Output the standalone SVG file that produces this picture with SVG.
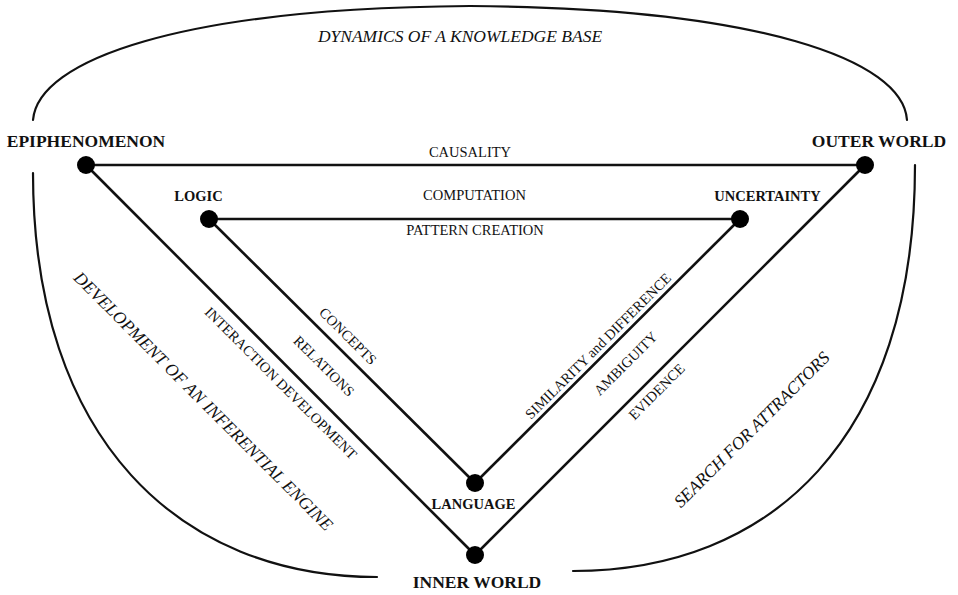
<svg xmlns="http://www.w3.org/2000/svg" width="958" height="595" viewBox="0 0 958 595">
<style>
.bg{fill:#ffffff}
.arc{fill:none;stroke:#111;stroke-width:2.2;stroke-linecap:round}
.edge{fill:none;stroke:#111;stroke-width:2.6}
.dot{fill:#000}
text{font-family:"Liberation Serif","Times New Roman",serif;fill:#111}
.node{font-weight:bold;font-size:17.5px;text-anchor:middle}
.inode{font-weight:bold;font-size:14.5px;text-anchor:middle}
.lbl{font-size:14.5px;text-anchor:middle}
.it{font-style:italic;font-size:17.5px;text-anchor:middle}
</style>
<rect class="bg" x="0" y="0" width="958" height="595"/>
<g id="boundary">
<path class="arc" d="M33,120 C38,60 180,8 470,6 C760,8 903,60 907,120"/>
<path class="arc" d="M33,173 C33,440 180,577 377,577"/>
<path class="arc" d="M915,165 C915,440 770,571 573,571"/>
<text class="it" x="460" y="42">DYNAMICS OF A KNOWLEDGE BASE</text>
<text class="it" transform="translate(203.5,401) rotate(45)" y="6">DEVELOPMENT OF AN INFERENTIAL ENGINE</text>
<text class="it" transform="translate(751.5,429.5) rotate(-45)" y="6">SEARCH FOR ATTRACTORS</text>
</g>
<g id="connectors">
<line class="edge" x1="86" y1="165" x2="865" y2="165"/>
<line class="edge" x1="86" y1="165" x2="475" y2="555"/>
<line class="edge" x1="865" y1="165" x2="475" y2="555"/>
<line class="edge" x1="209" y1="219" x2="740" y2="219"/>
<line class="edge" x1="209" y1="219" x2="475" y2="483"/>
<line class="edge" x1="740" y1="219" x2="475" y2="483"/>
<text class="lbl" x="470" y="157">CAUSALITY</text>
<text class="lbl" x="474.5" y="200">COMPUTATION</text>
<text class="lbl" x="475" y="235">PATTERN CREATION</text>
<text class="lbl" transform="translate(348,336) rotate(45)" y="5">CONCEPTS</text>
<text class="lbl" transform="translate(324,366) rotate(45)" y="5">RELATIONS</text>
<text class="lbl" transform="translate(281,383) rotate(45)" y="5">INTERACTION DEVELOPMENT</text>
<text class="lbl" transform="translate(598,346) rotate(-45)" y="5">SIMILARITY and DIFFERENCE</text>
<text class="lbl" transform="translate(625.5,363.5) rotate(-45)" y="5">AMBIGUITY</text>
<text class="lbl" transform="translate(656.5,391.5) rotate(-45)" y="5">EVIDENCE</text>
</g>
<g id="epiphenomenon">
<circle class="dot" cx="86" cy="165" r="9"/>
<text class="node" x="86" y="147">EPIPHENOMENON</text>
</g>
<g id="outer-world">
<circle class="dot" cx="865" cy="165" r="9"/>
<text class="node" x="879" y="147">OUTER WORLD</text>
</g>
<g id="logic">
<circle class="dot" cx="209" cy="219" r="9"/>
<text class="inode" x="198.5" y="201">LOGIC</text>
</g>
<g id="uncertainty">
<circle class="dot" cx="740" cy="219" r="9"/>
<text class="inode" x="767.5" y="201">UNCERTAINTY</text>
</g>
<g id="language">
<circle class="dot" cx="475" cy="483" r="9"/>
<text class="inode" x="473.5" y="509">LANGUAGE</text>
</g>
<g id="inner-world">
<circle class="dot" cx="475" cy="555" r="9"/>
<text class="node" x="477" y="588">INNER WORLD</text>
</g>
</svg>
